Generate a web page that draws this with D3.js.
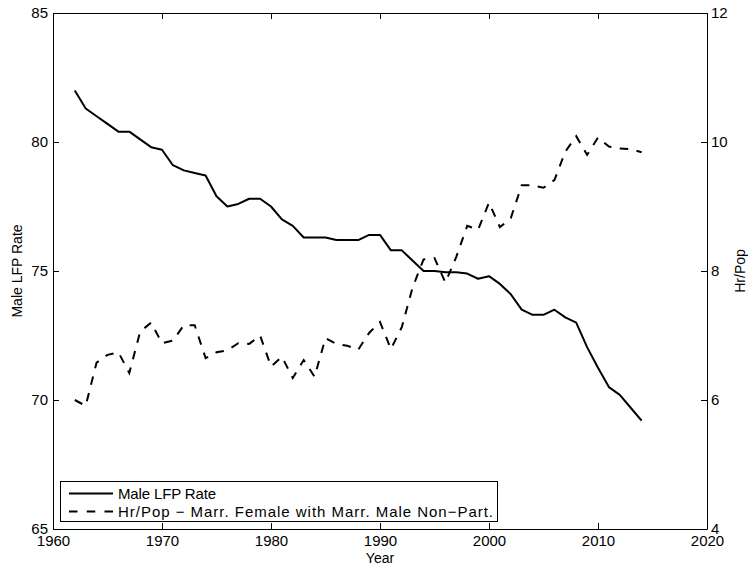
<!DOCTYPE html>
<html>
<head>
<meta charset="utf-8">
<script src="https://cdn.jsdelivr.net/npm/d3@7"></script>
<style>
  html, body { margin: 0; padding: 0; background: #fff; }
  svg { display: block; font-family: "Liberation Sans", Arial, Helvetica, sans-serif; }
  .axis path, .axis line { stroke: #000; stroke-width: 1; }
  .axis text { fill: #000; font-size: 15px; }
</style>
</head>
<body>
<svg id="chart" width="748" height="567"></svg>
<script>
// Years covered by both series
const years = [1962,1963,1964,1965,1966,1967,1968,1969,1970,1971,1972,1973,1974,1975,1976,1977,1978,1979,1980,1981,1982,1983,1984,1985,1986,1987,1988,1989,1990,1991,1992,1993,1994,1995,1996,1997,1998,1999,2000,2001,2002,2003,2004,2005,2006,2007,2008,2009,2010,2011,2012,2013,2014];

// Male labour force participation rate (left axis, %)
const maleLFP = [82.0,81.3,81.0,80.7,80.4,80.4,80.1,79.8,79.7,79.1,78.9,78.8,78.7,77.9,77.5,77.6,77.8,77.8,77.5,77.0,76.75,76.3,76.3,76.3,76.2,76.2,76.2,76.4,76.4,75.8,75.8,75.4,75.0,75.0,74.95,74.95,74.9,74.7,74.8,74.5,74.1,73.5,73.3,73.3,73.5,73.2,73.0,72.05,71.25,70.5,70.2,69.7,69.2];

// Hours per population, married females with non-participating married males (right axis)
const hrPop = [6.0,5.91,6.58,6.7,6.74,6.42,7.06,7.2,6.88,6.92,7.16,7.16,6.65,6.74,6.77,6.88,6.87,7.0,6.52,6.67,6.34,6.62,6.36,6.96,6.87,6.84,6.78,7.04,7.21,6.79,7.13,7.75,8.18,8.2,7.82,8.22,8.7,8.64,9.06,8.68,8.82,9.33,9.33,9.29,9.41,9.85,10.09,9.8,10.07,9.93,9.9,9.89,9.84];

const xTicks = [1960,1970,1980,1990,2000,2010,2020];
const leftTicks = [65,70,75,80,85];
const rightTicks = [4,6,8,10,12];

const seriesNames = ["Male LFP Rate", "Hr/Pop \u2212 Marr. Female with Marr. Male Non\u2212Part."];

const svg = d3.select("#chart");
const L = 53, R = 707, T = 13, B = 529;

const x = d3.scaleLinear().domain([1960, 2020]).range([L, R]);
const yL = d3.scaleLinear().domain([65, 85]).range([B, T]);
const yR = d3.scaleLinear().domain([4, 12]).range([B, T]);

// Box axes with inward ticks
svg.append("g").attr("class", "axis")
  .attr("transform", `translate(0,${B})`)
  .call(d3.axisBottom(x).tickValues(xTicks).tickFormat(d3.format("d"))
    .tickSizeInner(-6).tickSizeOuter(0).tickPadding(6));

svg.append("g").attr("class", "axis")
  .attr("transform", `translate(0,${T})`)
  .call(d3.axisTop(x).tickValues(xTicks).tickFormat("")
    .tickSizeInner(-6).tickSizeOuter(0));

svg.append("g").attr("class", "axis")
  .attr("transform", `translate(${L},0)`)
  .call(d3.axisLeft(yL).tickValues(leftTicks).tickFormat(d3.format("d"))
    .tickSizeInner(-6).tickSizeOuter(0).tickPadding(5));

svg.append("g").attr("class", "axis")
  .attr("transform", `translate(${R},0)`)
  .call(d3.axisRight(yR).tickValues(rightTicks).tickFormat(d3.format("d"))
    .tickSizeInner(-6).tickSizeOuter(0).tickPadding(4));

// Series lines
const lineL = d3.line().x((d, i) => x(years[i])).y(d => yL(d));
const lineR = d3.line().x((d, i) => x(years[i])).y(d => yR(d));

svg.append("path").datum(maleLFP)
  .attr("d", lineL)
  .attr("fill", "none").attr("stroke", "#000").attr("stroke-width", 2)
  .attr("stroke-linejoin", "round");

svg.append("path").datum(hrPop)
  .attr("d", lineR)
  .attr("fill", "none").attr("stroke", "#000").attr("stroke-width", 2)
  .attr("stroke-dasharray", "8.5,8.5");

// Axis titles
svg.append("text").attr("x", (L + R) / 2).attr("y", 563)
  .attr("text-anchor", "middle").attr("font-size", 14).text("Year");

svg.append("text")
  .attr("transform", `translate(22,${(T + B) / 2}) rotate(-90)`)
  .attr("text-anchor", "middle").attr("font-size", 14).text("Male LFP Rate");

svg.append("text")
  .attr("transform", `translate(745,${(T + B) / 2}) rotate(-90)`)
  .attr("text-anchor", "middle").attr("font-size", 14).text("Hr/Pop");

// Legend
const lg = svg.append("g");
lg.append("rect").attr("x", 60.5).attr("y", 481.5).attr("width", 437).attr("height", 40)
  .attr("fill", "#fff").attr("stroke", "#000").attr("stroke-width", 1);
const rows = [493.5, 511.5];
const labelWidths = [98, 375];
lg.append("line").attr("x1", 69).attr("x2", 113).attr("y1", rows[0]).attr("y2", rows[0])
  .attr("stroke", "#000").attr("stroke-width", 2);
lg.append("line").attr("x1", 69).attr("x2", 113).attr("y1", rows[1]).attr("y2", rows[1])
  .attr("stroke", "#000").attr("stroke-width", 2).attr("stroke-dasharray", "8.5,9.25");
seriesNames.forEach((name, i) => {
  lg.append("text").attr("x", 118).attr("y", rows[i]).attr("dy", "0.36em")
    .attr("font-size", 15)
    .attr("textLength", labelWidths[i]).attr("lengthAdjust", "spacing")
    .text(name);
});
</script>
</body>
</html>
